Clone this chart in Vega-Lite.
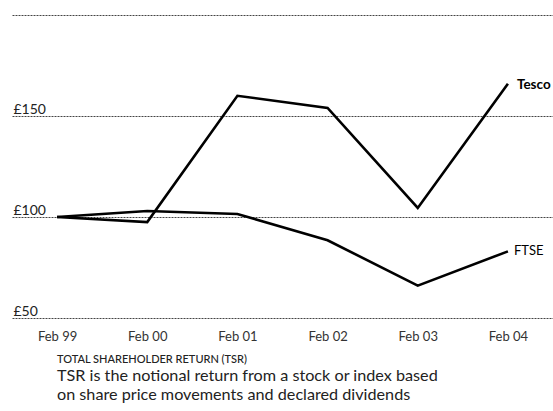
{
  "$schema": "https://vega.github.io/schema/vega-lite/v6.json",
  "width": 541,
  "height": 303,
  "autosize": {"type": "none"},
  "padding": {"left": 12, "top": 15, "right": 0, "bottom": 93},
  "background": "white",
  "config": {"view": {"stroke": null}, "font": "Lato"},
  "title": {
    "text": "TOTAL SHAREHOLDER RETURN (TSR)",
    "subtitle": ["TSR is the notional return from a stock or index based", "on share price movements and declared dividends"],
    "orient": "bottom",
    "anchor": "start",
    "dx": 45,
    "offset": 11,
    "font": "Lato",
    "fontSize": 11,
    "fontWeight": 500,
    "color": "#222",
    "subtitleFont": "Lato",
    "subtitleFontSize": 16.2,
    "subtitleColor": "#222",
    "subtitleLineHeight": 19,
    "subtitlePadding": 3
  },
  "data": {
    "values": [
      {"period": "Feb 99", "series": "Tesco", "value": 100},
      {"period": "Feb 00", "series": "Tesco", "value": 97.5},
      {"period": "Feb 01", "series": "Tesco", "value": 160},
      {"period": "Feb 02", "series": "Tesco", "value": 154},
      {"period": "Feb 03", "series": "Tesco", "value": 104.5},
      {"period": "Feb 04", "series": "Tesco", "value": 166},
      {"period": "Feb 99", "series": "FTSE", "value": 100},
      {"period": "Feb 00", "series": "FTSE", "value": 103},
      {"period": "Feb 01", "series": "FTSE", "value": 101.5},
      {"period": "Feb 02", "series": "FTSE", "value": 88.5},
      {"period": "Feb 03", "series": "FTSE", "value": 66},
      {"period": "Feb 04", "series": "FTSE", "value": 83}
    ]
  },
  "encoding": {
    "x": {
      "field": "period",
      "type": "ordinal",
      "sort": ["Feb 99", "Feb 00", "Feb 01", "Feb 02", "Feb 03", "Feb 04"],
      "scale": {"type": "point", "padding": 0.5},
      "axis": {
        "title": null,
        "domain": false,
        "ticks": false,
        "grid": false,
        "labelAngle": 0,
        "labelPadding": 12,
        "labelFontSize": 13,
        "labelColor": "#333",
        "labelFont": "Lato"
      }
    },
    "y": {
      "field": "value",
      "type": "quantitative",
      "scale": {"domain": [50, 200], "nice": false, "zero": false},
      "axis": {
        "title": null,
        "domain": false,
        "ticks": false,
        "values": [50, 100, 150, 200],
        "grid": true,
        "gridDash": [2, 1],
        "gridColor": "#444",
        "gridWidth": 1,
        "labelAlign": "left",
        "labelBaseline": "alphabetic",
        "labelPadding": -1,
        "labelOffset": -3,
        "labelFontSize": 14,
        "labelColor": "#222",
        "labelFont": "Lato",
        "labelExpr": "datum.value == 200 ? '' : '£' + datum.value"
      }
    }
  },
  "layer": [
    {
      "mark": {"type": "line", "color": "black", "strokeWidth": 2.6},
      "encoding": {"detail": {"field": "series"}}
    },
    {
      "transform": [{"filter": "datum.period == 'Feb 04' && datum.series == 'Tesco'"}],
      "mark": {"type": "text", "align": "left", "baseline": "middle", "dx": 9, "dy": 1, "fontSize": 13.5, "fontWeight": "bold", "color": "black", "font": "Lato"},
      "encoding": {"text": {"field": "series"}}
    },
    {
      "transform": [{"filter": "datum.period == 'Feb 04' && datum.series == 'FTSE'"}],
      "mark": {"type": "text", "align": "left", "baseline": "middle", "dx": 6, "fontSize": 13, "fontWeight": "normal", "color": "black", "font": "Lato"},
      "encoding": {"text": {"field": "series"}}
    }
  ]
}
